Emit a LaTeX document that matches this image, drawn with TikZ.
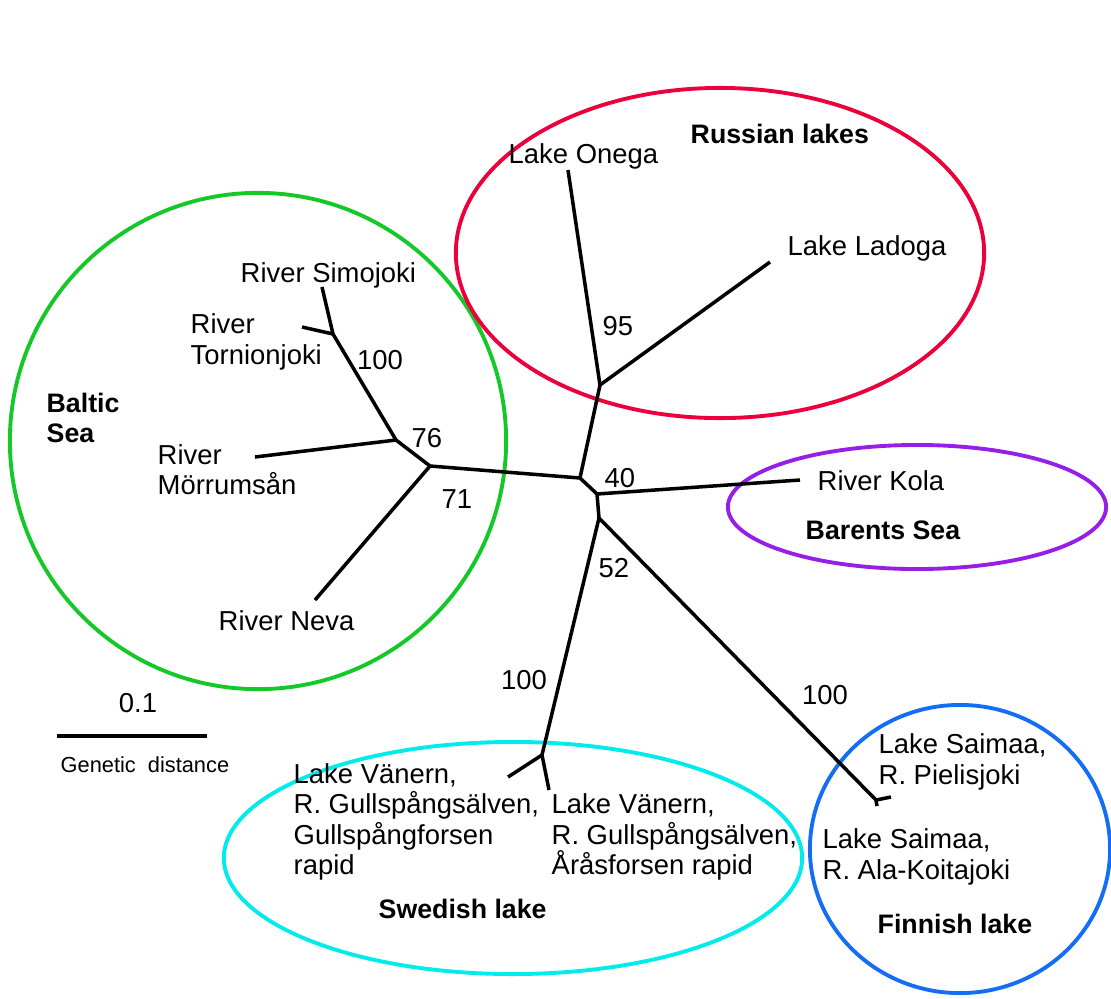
\documentclass[tikz,border=0pt]{standalone}
\usepackage{fontspec}
\setmainfont{Liberation Sans}
\usepackage{tikz}
\usetikzlibrary{positioning}
\definecolor{balticgreen}{RGB}{20,200,40}
\definecolor{russianred}{RGB}{235,0,60}
\definecolor{barentspurple}{RGB}{150,30,230}
\definecolor{swedishcyan}{RGB}{0,235,235}
\definecolor{finnishblue}{RGB}{20,110,245}

\begin{document}
\begin{tikzpicture}[x=0.01cm, y=-0.01cm,
    branch/.style={line width=1pt, line join=round},
    group/.style={line width=1.1pt},
    lbl/.style={anchor=west, inner sep=0pt, align=left, font=\fontsize{7.8}{8.6}\selectfont},
    grp/.style={lbl, font=\bfseries\fontsize{7.6}{8.6}\selectfont},
    boot/.style={inner sep=0pt, font=\fontsize{7.8}{8.6}\selectfont}]
        \useasboundingbox (0,0) rectangle (1111,999);

        %GROUPS
        \draw[group, balticgreen] (258,441) ellipse [x radius=2.48cm, y radius=2.48cm];
        \draw[group, russianred] (720,253) ellipse [x radius=2.64cm, y radius=1.65cm];
        \draw[group, barentspurple] (917,507) ellipse [x radius=1.89cm, y radius=0.62cm];
        \draw[group, swedishcyan] (513,858) ellipse [x radius=2.89cm, y radius=1.16cm];
        \draw[group, finnishblue] (960,849) ellipse [x radius=1.50cm, y radius=1.44cm];

        %JUNCTIONS
        \coordinate (cen) at (580,478);
        \coordinate (kolj) at (597,494);
        \coordinate (rusj) at (600,385);
        \coordinate (balj) at (430,466);
        \coordinate (mnj) at (396,440);
        \coordinate (stj) at (333,334);
        \coordinate (sfj) at (599,518);
        \coordinate (swj) at (542,755);
        \coordinate (fij) at (876,800);

        %TIPS
        \coordinate (simo) at (322,287);
        \coordinate (torn) at (302,327);
        \coordinate (morr) at (255,457);
        \coordinate (neva) at (315,600);
        \coordinate (onega) at (568,170);
        \coordinate (ladoga) at (770,262);
        \coordinate (kola) at (800,480);
        \coordinate (gull) at (508,777);
        \coordinate (aras) at (549,790);
        \coordinate (piel) at (891,797);
        \coordinate (ala) at (877,806);

        %TREE
        \draw[branch] (simo) -- (stj) -- (mnj) -- (balj) -- (cen) -- (kolj) -- (sfj);
        \draw[branch] (torn) -- (stj);
        \draw[branch] (morr) -- (mnj);
        \draw[branch] (neva) -- (balj);
        \draw[branch] (cen) -- (rusj) -- (onega);
        \draw[branch] (rusj) -- (ladoga);
        \draw[branch] (kolj) -- (kola);
        \draw[branch] (sfj) -- (swj) -- (gull);
        \draw[branch] (swj) -- (aras);
        \draw[branch] (sfj) -- (fij) -- (piel);
        \draw[branch] (fij) -- (ala);

        %BOOTSTRAP
        \node[boot] (b95) at (618,326) {95};
        \node[boot] (b100a) at (380,360) {100};
        \node[boot] (b76) at (427,438) {76};
        \node[boot] (b71) at (457,499) {71};
        \node[boot] (b40) at (620,478) {40};
        \node[boot] (b52) at (614,568) {52};
        \node[boot] (b100b) at (524,680) {100};
        \node[boot] (b100c) at (825,695) {100};

        %LABEL
        \node[lbl] (lsimo) at (240,275) {River Simojoki};
        \node[lbl] (ltorn) at (190,342) {River\\Tornionjoki};
        \node[lbl] (lmorr) at (157,470) {River\\Mörrumsån};
        \node[lbl] (lneva) at (218,621) {River Neva};
        \node[lbl] (lonega) at (508,156) {Lake Onega};
        \node[lbl] (lladoga) at (787,248) {Lake Ladoga};
        \node[lbl] (lkola) at (817,481) {River Kola};
        \node[lbl] (lgull) at (293,822) {Lake Vänern,\\R. Gullspångsälven,\\Gullspångforsen\\rapid};
        \node[lbl] (laras) at (551,837) {Lake Vänern,\\R. Gullspångsälven,\\Åråsforsen rapid};
        \node[lbl] (lpiel) at (878,762) {Lake Saimaa,\\R. Pielisjoki};
        \node[lbl] (lala) at (822,857) {Lake Saimaa,\\R. Ala-Koitajoki};

        \node[grp] (gbaltic) at (46,418) {Baltic\\Sea};
        \node[grp] (grussian) at (690,134) {Russian lakes};
        \node[grp] (gbarents) at (805,530) {Barents Sea};
        \node[grp] (gswedish) at (378,909) {Swedish lake};
        \node[grp] (gfinnish) at (877,924) {Finnish lake};

        %SCALE
        \coordinate (sb1) at (57,736);
        \coordinate (sb2) at (207,736);
        \draw[line width=1.1pt] (sb1) -- (sb2);
        \node[boot] (sbval) at (138,703) {0.1};
        \node[lbl, font=\fontsize{6.2}{7}\selectfont] (sbtxt) at (60,765) {Genetic\ \ distance};
    \end{tikzpicture}
\end{document}
